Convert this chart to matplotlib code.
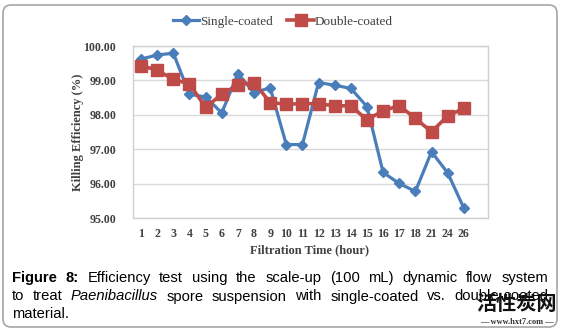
import matplotlib
matplotlib.use("Agg")
import matplotlib.pyplot as plt
from matplotlib.patches import FancyBboxPatch
from matplotlib.transforms import IdentityTransform

hours = ["1", "2", "3", "4", "5", "6", "7", "8", "9", "10", "11", "12", "13", "14", "15",
         "16", "17", "18", "21", "24", "26"]
single_coated = [99.62, 99.74, 99.79, 98.60, 98.52, 98.06, 99.20, 98.64, 98.79, 97.14, 97.14,
                 98.94, 98.86, 98.77, 98.24, 96.33, 96.01, 95.78, 96.93, 96.32, 95.30]
double_coated = [99.43, 99.30, 99.03, 98.90, 98.22, 98.60, 98.87, 98.94, 98.36, 98.31, 98.33,
                 98.32, 98.27, 98.26, 97.86, 98.12, 98.27, 97.90, 97.51, 97.97, 98.19]
y_ticks = [95, 96, 97, 98, 99, 100]

BLUE = "#4A7EBB"
RED = "#BE4B48"
SERIF = "Liberation Serif"

W, H = 562, 333
fig = plt.figure(figsize=(W / 100, H / 100), dpi=100)
fig.patch.set_facecolor("white")

ax = fig.add_axes([133 / W, 1 - 218.3 / H, (488 - 133) / W, (218.3 - 46) / H])
n_slots = len(hours) + 1
x = list(range(len(hours)))
ax.plot(x, single_coated, color=BLUE, lw=2.3, marker="D", ms=5.5, mfc=BLUE, mec=BLUE,
        label="Single-coated", zorder=3)
ax.plot(x, double_coated, color=RED, lw=2.6, marker="s", ms=8, mfc=RED, mec=RED,
        label="Double-coated", zorder=3)

ax.set_xlim(-0.5, n_slots - 0.5)
ax.set_ylim(95, 100)
ax.set_yticks(y_ticks)
ax.set_yticklabels([f"{v:.2f}" for v in y_ticks])
ax.set_xticks(x)
ax.set_xticklabels(hours)
ax.tick_params(length=0, labelsize=8.6, colors="#404040")
ax.tick_params(axis="y", pad=12)
ax.tick_params(axis="x", pad=7)
for lbl in ax.get_xticklabels() + ax.get_yticklabels():
    lbl.set_family(SERIF)
    lbl.set_fontweight("bold")
ax.grid(axis="y", color="#d9d9d9", lw=1)
ax.set_axisbelow(True)
for s in ax.spines.values():
    s.set_color("#d0d0d0")
    s.set_linewidth(1)

fig.text(310 / W, 1 - 250 / H, "Filtration Time (hour)", family=SERIF, fontweight="bold",
         fontsize=9, color="#404040", ha="center", va="center")
fig.text(78 / W, 1 - 132 / H, "Killing Efficiency (%)", family=SERIF, fontweight="bold",
         fontsize=9, color="#404040", ha="center", va="center", rotation=90)

leg = ax.legend(loc="center left", bbox_to_anchor=(173 / W, 1 - 22 / H),
                bbox_transform=fig.transFigure, ncol=2, frameon=False,
                prop={"family": SERIF, "size": 9.5}, handlelength=2.0,
                handletextpad=0.05, columnspacing=1.1, borderaxespad=0, borderpad=0)
for t in leg.get_texts():
    t.set_color("#404040")

# outer rounded frame
frame = FancyBboxPatch((3, H - 327), 554, 322, boxstyle="round,pad=0,rounding_size=8",
                       transform=IdentityTransform(), fc="none", ec="#a6a6a6", lw=1.2)
fig.patches.append(frame)

# caption, justified
fig.canvas.draw()
renderer = fig.canvas.get_renderer()
CAP_SIZE = 10.6
LEFT, RIGHT = 12, 548


def place_line(words, baseline_y, justify):
    texts = []
    for w, style in words:
        kw = dict(family="Liberation Sans", fontsize=CAP_SIZE, color="black",
                  va="baseline", ha="left", transform=IdentityTransform())
        if style == "b":
            kw["fontweight"] = "bold"
        elif style == "i":
            kw["fontstyle"] = "italic"
        t = fig.text(0, 0, w, **kw)
        texts.append(t)
    widths = [t.get_window_extent(renderer).width for t in texts]
    space = fig.text(0, 0, "a a", family="Liberation Sans", fontsize=CAP_SIZE,
                     transform=IdentityTransform())
    aa = fig.text(0, 0, "aa", family="Liberation Sans", fontsize=CAP_SIZE,
                  transform=IdentityTransform())
    sp = space.get_window_extent(renderer).width - aa.get_window_extent(renderer).width
    space.remove()
    aa.remove()
    if justify and len(texts) > 1:
        gap = (RIGHT - LEFT - sum(widths)) / (len(texts) - 1)
    else:
        gap = sp
    xpos = LEFT
    for t, wdt in zip(texts, widths):
        t.set_position((xpos, H - baseline_y))
        xpos += wdt + gap


line1 = [("Figure", "b"), ("8:", "b")] + [(w, "n") for w in
         "Efficiency test using the scale-up (100 mL) dynamic flow system".split()]
line2 = [("to", "n"), ("treat", "n"), ("Paenibacillus", "i")] + [(w, "n") for w in
         "spore suspension with single-coated vs. double-coated".split()]
line3 = [("material.", "n")]
place_line(line1, 282, True)
place_line(line2, 300.5, True)
place_line(line3, 318, False)

# watermark
fig.text(517 / W, 1 - 304 / H, "活性炭网", family=["Noto Sans CJK SC", "DejaVu Sans"],
         fontweight="bold", fontsize=14.5, color="#111111", ha="center", va="center")
fig.text(517 / W, 1 - 322 / H, "— www.hxt7.com —", family=SERIF, fontweight="bold",
         fontsize=6, color="#333333", ha="center", va="center")

fig.savefig("out.png", dpi=100, facecolor="white")
